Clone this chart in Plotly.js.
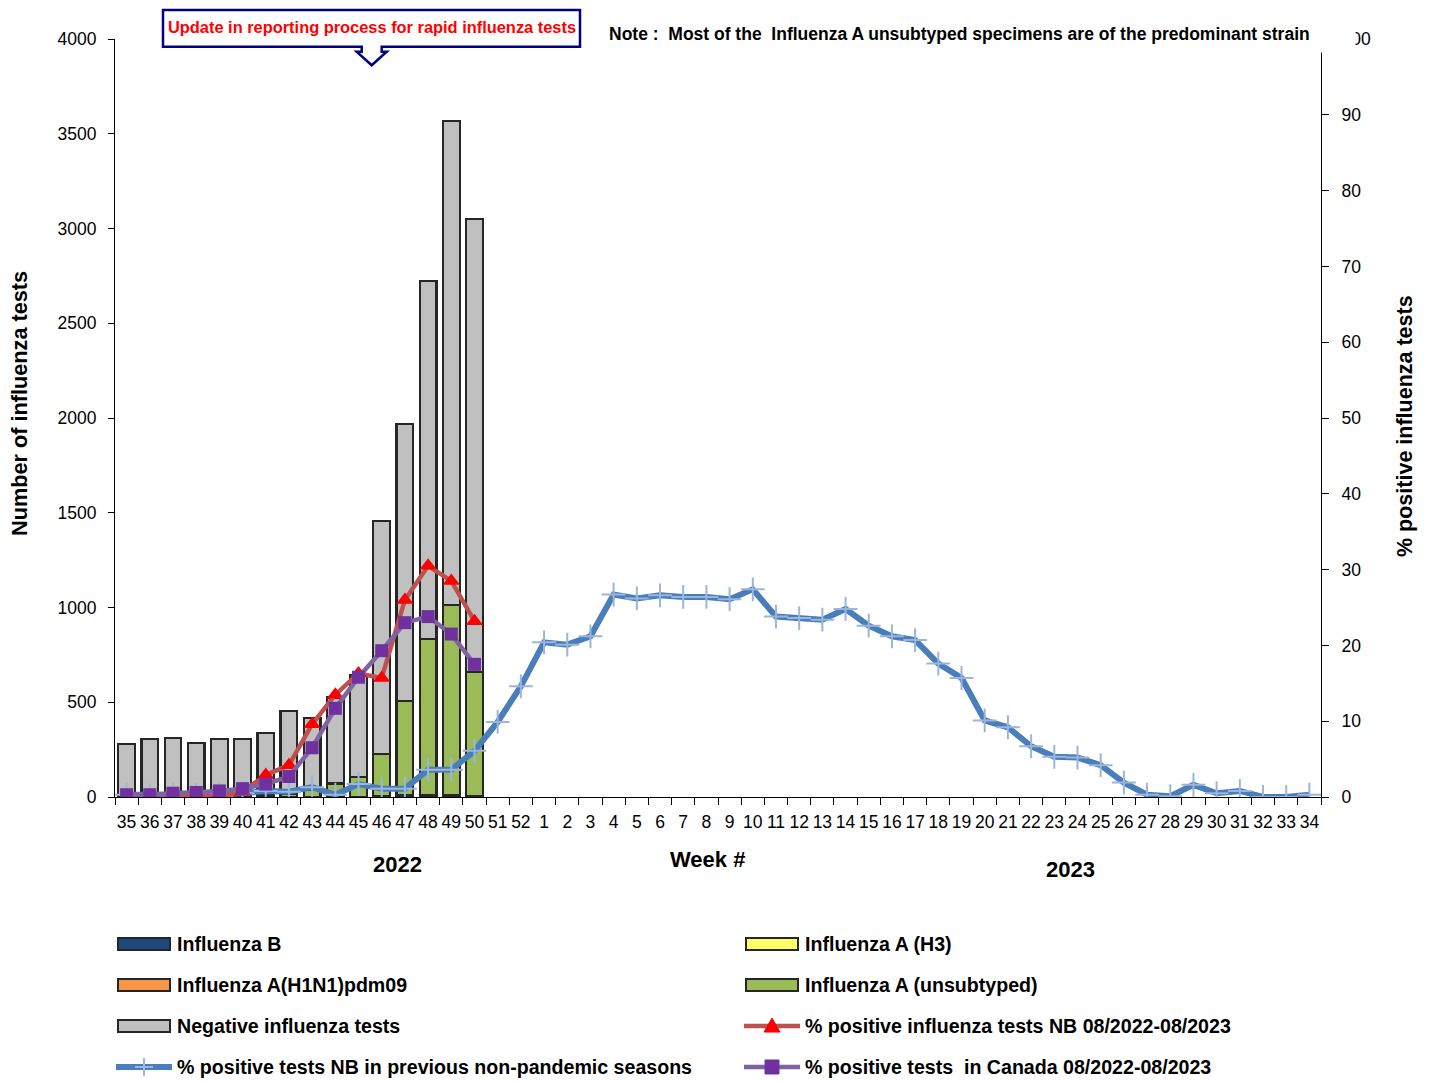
<!DOCTYPE html>
<html>
<head>
<meta charset="utf-8">
<script src="https://cdn.plot.ly/plotly-3.0.1.min.js"></script>
<style>html,body{margin:0;padding:0;background:#fff;}#chart{width:1431px;height:1081px;}</style>
</head>
<body>
<div id="chart"></div>
<script>
// ---- data ----
const weeks = ["35","36","37","38","39","40","41","42","43","44","45","46","47","48","49","50","51","52",
  "1","2","3","4","5","6","7","8","9","10","11","12","13","14","15","16","17","18","19","20",
  "21","22","23","24","25","26","27","28","29","30","31","32","33","34"];
const barWeeks = ["35","36","37","38","39","40","41","42","43","44","45","46","47","48","49","50"];
const fluB      = [0,0,0,0,0,0,0,0,0,0,0,0,0,2,3,2];
const fluH1N1   = [0,0,0,0,0,0,0,0,0,0,0,0,0,0,0,0];
const fluH3     = [0,0,0,0,0,0,0,0,0,0,0,4,12,10,6,5];
const fluAunsub = [0,0,0,1,0,2,10,19,40,71,104,223,496,820,1004,654];
const negative  = [280,306,311,284,306,304,329,436,375,454,541,1230,1460,1891,2554,2389];
const pctNB     = [0,0,0,0.3,0,0.7,2.9,4.2,9.6,13.5,16.3,15.7,26.0,30.5,28.5,23.2];
const pctCanada = [0.3,0.3,0.5,0.6,0.8,1.1,1.7,2.7,6.5,11.7,15.8,19.3,23.0,23.8,21.5,17.5];
const pctPrev   = [0.3,0.2,0.3,0.3,0.4,0.5,0.8,0.7,1.3,0.3,1.7,1.1,1.1,3.6,3.6,6.1,9.9,14.6,
  20.4,20.1,21.2,26.7,26.2,26.6,26.4,26.4,26.1,27.4,23.8,23.6,23.4,24.8,22.6,21.2,20.7,17.6,15.7,10.1,
  9.2,6.7,5.3,5.2,4.2,1.9,0.3,0.1,1.6,0.5,0.8,0.0,0.0,0.3];
const leftTicks = [0,500,1000,1500,2000,2500,3000,3500,4000];
const rightTicks = [0,10,20,30,40,50,60,70,80,90,100];

// ---- layout helpers ----
const L = 115, R = 1321, T = 39, B = 797;
const px = v => (v - L) / (R - L);
const py = v => (B - v) / (B - T);
const FONT = '"Liberation Sans", Arial, sans-serif';
const outline = {color: '#262626', width: 2.2};

function barTrace(name, vals, color) {
  return {type: 'bar', name: name, x: barWeeks, y: vals, yaxis: 'y',
    marker: {color: color, line: outline}, showlegend: false, hoverinfo: 'x+y+name'};
}

const traces = [
  barTrace('Influenza B', fluB, '#1f497d'),
  barTrace('Influenza A(H1N1)pdm09', fluH1N1, '#f79646'),
  barTrace('Influenza A (H3)', fluH3, '#ffff66'),
  barTrace('Influenza A (unsubtyped)', fluAunsub, '#9bbb59'),
  barTrace('Negative influenza tests', negative, '#c0c0c0'),
  {type: 'scatter', mode: 'lines+markers', name: '% positive tests NB in previous non-pandemic seasons',
    x: weeks, y: pctPrev, yaxis: 'y2', showlegend: false,
    line: {color: '#4a7ebb', width: 6},
    marker: {symbol: 'cross-thin', size: 17, color: '#9bb5dc', line: {color: '#9bb5dc', width: 2}}},
  {type: 'scatter', mode: 'lines+markers', name: '% positive influenza tests NB 08/2022-08/2023',
    x: barWeeks, y: pctNB, yaxis: 'y2', showlegend: false,
    line: {color: '#c0504d', width: 4.5},
    marker: {symbol: 'triangle-up', size: 15, color: '#ff0000'}},
  {type: 'scatter', mode: 'lines+markers', name: '% positive tests  in Canada 08/2022-08/2023',
    x: barWeeks, y: pctCanada, yaxis: 'y2', showlegend: false,
    line: {color: '#8064a2', width: 4.5},
    marker: {symbol: 'square', size: 13, color: '#7030a0'}}
];

// ---- legend (drawn manually) ----
const rowsY = [944, 985, 1026, 1067];
const col1 = 118, col2 = 746, symW = 52;
const legendItems = [
  {col: col1, row: 0, kind: 'bar', color: '#1f497d', text: 'Influenza B'},
  {col: col1, row: 1, kind: 'bar', color: '#f79646', text: 'Influenza A(H1N1)pdm09'},
  {col: col1, row: 2, kind: 'bar', color: '#c0c0c0', text: 'Negative influenza tests'},
  {col: col1, row: 3, kind: 'prev', text: '% positive tests NB in previous non-pandemic seasons'},
  {col: col2, row: 0, kind: 'bar', color: '#ffff66', text: 'Influenza A (H3)'},
  {col: col2, row: 1, kind: 'bar', color: '#9bbb59', text: 'Influenza A (unsubtyped)'},
  {col: col2, row: 2, kind: 'nb', text: '% positive influenza tests NB 08/2022-08/2023'},
  {col: col2, row: 3, kind: 'can', text: '% positive tests  in Canada 08/2022-08/2023'}
];
const shapes = [];
const annotations = [];
legendItems.forEach(it => {
  const yc = rowsY[it.row];
  if (it.kind === 'bar') {
    shapes.push({type: 'rect', xref: 'paper', yref: 'paper', x0: px(it.col), x1: px(it.col + symW),
      y0: py(yc - 6), y1: py(yc + 6), fillcolor: it.color, line: {color: '#262626', width: 2}});
  } else {
    const lc = it.kind === 'prev' ? '#4a7ebb' : (it.kind === 'nb' ? '#c0504d' : '#8064a2');
    const lw = it.kind === 'prev' ? 6 : 4.5;
    shapes.push({type: 'line', xref: 'paper', yref: 'paper', x0: px(it.col - 2), x1: px(it.col + symW + 2),
      y0: py(yc), y1: py(yc), line: {color: lc, width: lw}});
    const cx = px(it.col + symW / 2), cy = py(yc);
    let path, fill, lcol, lwid;
    if (it.kind === 'prev') { path = 'M-9,0H9M0,-9V9'; fill = 'rgba(0,0,0,0)'; lcol = '#9bb5dc'; lwid = 2; }
    else if (it.kind === 'nb') { path = 'M-8,-6L8,-6L0,8Z'; fill = '#ff0000'; lcol = '#ff0000'; lwid = 1; }
    else { path = 'M-7,-7H7V7H-7Z'; fill = '#7030a0'; lcol = '#7030a0'; lwid = 1; }
    shapes.push({type: 'path', xref: 'paper', yref: 'paper', xsizemode: 'pixel', ysizemode: 'pixel',
      xanchor: cx, yanchor: cy, path: path, fillcolor: fill, line: {color: lcol, width: lwid}});
  }
  annotations.push({xref: 'paper', yref: 'paper', x: px(it.col + symW + 5), y: py(yc), xanchor: 'left', yanchor: 'middle',
    text: '<b>' + it.text + '</b>', showarrow: false, font: {family: FONT, size: 19.6, color: '#000'}});
});

// callout box with arrow
shapes.push({type: 'path', xref: 'paper', yref: 'paper', xsizemode: 'pixel', ysizemode: 'pixel',
  xanchor: px(371.7), yanchor: py(46.7), layer: 'above',
  path: 'M-208.7,36.7 L208.3,36.7 L208.3,0 L10,0 L10,-5 L15,-5 L0,-18.5 L-15,-5 L-10,-5 L-10,0 L-208.7,0 Z',
  fillcolor: '#ffffff', line: {color: '#000080', width: 2.5}});
annotations.push({xref: 'paper', yref: 'paper', x: px(371.5), y: py(27), xanchor: 'center', yanchor: 'middle',
  text: '<b>Update in reporting process for rapid influenza tests</b>', showarrow: false,
  font: {family: FONT, size: 16.4, color: '#ff0000'}});

// note (white box that hides top of right axis)
annotations.push({xref: 'paper', yref: 'paper', x: px(606), y: py(34), xanchor: 'left', yanchor: 'middle',
  width: 744, height: 32, align: 'left', bgcolor: '#ffffff', borderpad: 2,
  text: '<b>Note :  Most of the  Influenza A unsubtyped specimens are of the predominant strain</b>', showarrow: false,
  font: {family: FONT, size: 17.5, color: '#000'}});

// axis titles and year labels
annotations.push({xref: 'paper', yref: 'paper', x: px(20), y: py(404), xanchor: 'center', yanchor: 'middle',
  textangle: -90, text: '<b>Number of influenza tests</b>', showarrow: false, font: {family: FONT, size: 21.7, color: '#000'}});
annotations.push({xref: 'paper', yref: 'paper', x: px(1405), y: py(426), xanchor: 'center', yanchor: 'middle',
  textangle: -90, text: '<b>% positive influenza tests</b>', showarrow: false, font: {family: FONT, size: 21.5, color: '#000'}});
annotations.push({xref: 'paper', yref: 'paper', x: px(397), y: py(864), xanchor: 'center', yanchor: 'middle',
  text: '<b>2022</b>', showarrow: false, font: {family: FONT, size: 22, color: '#000'}});
annotations.push({xref: 'paper', yref: 'paper', x: px(707), y: py(859), xanchor: 'center', yanchor: 'middle',
  text: '<b>Week #</b>', showarrow: false, font: {family: FONT, size: 22, color: '#000'}});
annotations.push({xref: 'paper', yref: 'paper', x: px(1070), y: py(869), xanchor: 'center', yanchor: 'middle',
  text: '<b>2023</b>', showarrow: false, font: {family: FONT, size: 22, color: '#000'}});

const layout = {
  width: 1431, height: 1081,
  margin: {l: L, r: 1431 - R, t: T, b: 1081 - B, pad: 0},
  paper_bgcolor: '#fff', plot_bgcolor: '#fff',
  font: {family: FONT, color: '#000'},
  barmode: 'stack', bargap: 0.28,
  showlegend: false,
  xaxis: {type: 'category', categoryorder: 'array', categoryarray: weeks, tickvals: weeks, ticktext: weeks,
    range: [-0.5, 51.5], showline: true, linecolor: '#000', linewidth: 1, showgrid: false, zeroline: false,
    ticks: 'outside', tickson: 'boundaries', ticklen: 7, tickcolor: '#000', tickwidth: 1,
    ticklabelstandoff: 9,
    tickfont: {family: FONT, size: 17.5, color: '#000'}, tickangle: 0},
  yaxis: {range: [0, 4000], tickvals: leftTicks, ticktext: leftTicks.map(String), showline: true, linecolor: '#000', linewidth: 1,
    showgrid: false, zeroline: false, ticks: 'outside', ticklen: 6, tickcolor: '#000',
    ticklabelstandoff: 8, tickfont: {family: FONT, size: 17.5, color: '#000'}},
  yaxis2: {range: [0, 100], overlaying: 'y', side: 'right', tickvals: rightTicks, ticktext: rightTicks.map(String),
    showline: true, linecolor: '#000', linewidth: 1, showgrid: false, zeroline: false,
    ticks: 'outside', ticklen: 7, tickcolor: '#000', ticklabelstandoff: 9,
    tickfont: {family: FONT, size: 17.5, color: '#000'}},
  shapes: shapes,
  annotations: annotations
};

Plotly.newPlot('chart', traces, layout, {displayModeBar: false, staticPlot: true});
</script>
</body>
</html>
